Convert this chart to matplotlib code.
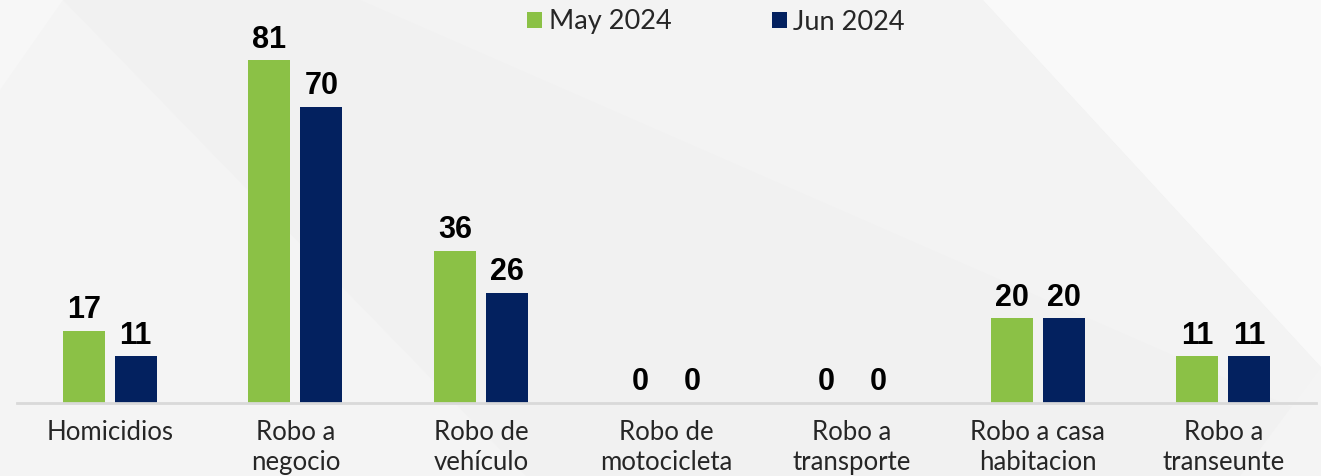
import matplotlib.pyplot as plt
from matplotlib.patches import Polygon
import numpy as np

categories = ["Homicidios", "Robo a\nnegocio", "Robo de\nvehículo", "Robo de\nmotocicleta",
              "Robo a\ntransporte", "Robo a casa\nhabitacion", "Robo a\ntranseunte"]
may_2024 = [17, 81, 36, 0, 0, 20, 11]
jun_2024 = [11, 70, 26, 0, 0, 20, 11]
series_names = ["May 2024", "Jun 2024"]

green = "#8bc146"
navy = "#03215f"
W, H = 1321, 476

fig = plt.figure(figsize=(W / 100, H / 100), dpi=100)
fig.patch.set_facecolor("#f4f4f4")

# soft diagonal background shapes
def fpoly(pts, color, z=-10):
    pts = [(x / W, 1 - y / H) for x, y in pts]
    fig.patches.append(Polygon(pts, closed=True, transform=fig.transFigure,
                               facecolor=color, edgecolor="none", zorder=z))

fpoly([(0, 0), (63, 0), (0, 90)], "#f7f7f7")
fpoly([(63, 0), (983, 0), (1321, 367), (1321, 476), (526, 476)], "#f1f1f1")
fpoly([(360, 0), (983, 0), (1321, 367), (1321, 420)], "#f3f3f3")
fpoly([(983, 0), (1321, 0), (1321, 367)], "#f9f9f9")
fpoly([(1321, 367), (1321, 476), (1240, 476)], "#f4f4f4")

ax = fig.add_axes([17 / W, 73 / H, 1299 / W, 403 / H])
ax.patch.set_alpha(0)

x = np.arange(len(categories))
bw = 0.226
off = 0.14
b1 = ax.bar(x - off, may_2024, bw, color=green, label=series_names[0])
b2 = ax.bar(x + off, jun_2024, bw, color=navy, label=series_names[1])

lab_font = dict(family=["Liberation Sans", "DejaVu Sans"], weight="bold", size=22, color="black")
ax.bar_label(b1, padding=4, **lab_font)
ax.bar_label(b2, padding=4, **lab_font)

ax.set_xlim(-0.5, len(categories) - 0.5)
ax.set_ylim(0, 95.2)
ax.set_yticks([])
for s in ["top", "right", "left"]:
    ax.spines[s].set_visible(False)
ax.spines["bottom"].set_color("#d9d9d9")
ax.spines["bottom"].set_linewidth(2)

ax.set_xticks(x)
ax.set_xticklabels(categories, fontsize=18.5, color="#262626", family=["Lato", "DejaVu Sans"],
                   linespacing=1.25)
ax.tick_params(axis="x", length=0, pad=12)

fig.legend(handles=[b1, b2], labels=series_names, loc="center", ncol=2,
           bbox_to_anchor=(716 / W, 1 - 22 / H), frameon=False,
           prop=dict(family=["Lato", "DejaVu Sans"], size=19.5),
           handlelength=0.55, handleheight=0.55, handletextpad=0.25, columnspacing=3.7,
           labelcolor="#262626")

fig.savefig("out.png", dpi=100, facecolor=fig.get_facecolor())
